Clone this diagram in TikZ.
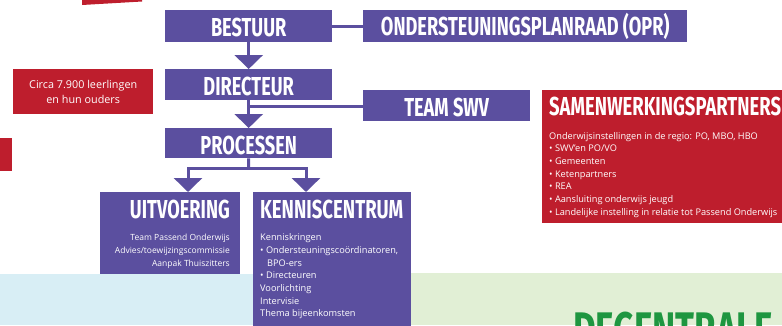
\documentclass[tikz,border=0pt]{standalone}
\usepackage{fontspec}
\usetikzlibrary{arrows.meta}
\newfontfamily\headfont{Fira Sans}[FakeStretch=0.70]
\newfontfamily\bodyfont{Open Sans}
\definecolor{swvpurple}{HTML}{5B4F9F}
\definecolor{swvred}{HTML}{BE1E2D}
\definecolor{bgblue}{HTML}{D8EEF5}
\definecolor{bggreen}{HTML}{E1EFD5}
\definecolor{swvgreen}{HTML}{1E9640}
\tikzset{
  pbox/.style={fill=swvpurple, inner sep=0pt, anchor=north west},
  rbox/.style={fill=swvred, inner sep=0pt, anchor=north west},
  headtext/.style={text=white, inner sep=0pt, font={\headfont\bfseries\fontsize{26}{26}\selectfont}},
  bodytext/.style={text=white, inner sep=0pt, font={\bodyfont\fontsize{9.2}{12.7}\selectfont}},
  conn/.style={draw=swvpurple, line width=3pt},
  arr/.style={conn, -{Triangle[width=28pt,length=14pt]}},
}
\begin{document}
\begin{tikzpicture}[x=1pt,y=-1pt]
\useasboundingbox (0,0) rectangle (782,325);
\clip (0,0) rectangle (782,325);
% backgrounds
\fill[bgblue] (0,274) rectangle (253,325);
\fill[bggreen] (411,273) rectangle (782,325);
% partial red shapes
\fill[swvred] (82,0) -- (142,0) -- (142,1.5) -- (82,5) -- cycle;
\fill[swvred] (0,138) rectangle (12,171);
% top chain
\node[pbox, minimum width=167pt, minimum height=32pt] (bestuur) at (165,10) {};
\node[headtext, anchor=base] at ([yshift=-10pt]bestuur.center) {BESTUUR};
\node[pbox, minimum width=324pt, minimum height=32pt] (opr) at (363,10) {};
\node[headtext, anchor=base] at ([yshift=-9.5pt]opr.center) {ONDERSTEUNINGSPLANRAAD (OPR)};
\node[pbox, minimum width=167pt, minimum height=31pt] (directeur) at (165,69) {};
\node[headtext, anchor=base] at ([yshift=-10.5pt]directeur.center) {DIRECTEUR};
\node[pbox, minimum width=167pt, minimum height=31pt] (teamswv) at (363,90) {};
\node[headtext, anchor=base] at ([yshift=-11pt]teamswv.center) {TEAM SWV};
\node[pbox, minimum width=167pt, minimum height=30pt] (processen) at (165,128) {};
\node[headtext, anchor=base] at ([yshift=-11pt]processen.center) {PROCESSEN};
% circa box
\node[rbox, minimum width=140pt, minimum height=45pt] (circa) at (13,69) {};
\node[bodytext, align=center, font={\bodyfont\fontsize{10.8}{15}\selectfont}] at (circa.center) {Circa 7.900 leerlingen\\en hun ouders};
% samenwerkingspartners
\node[rbox, minimum width=250pt, minimum height=133pt] (partners) at (542,90) {};
\node[headtext, anchor=base west] at (549,115.5) {\addfontfeature{FakeStretch=0.71}SAMENWERKINGSPARTNERS};
\node[bodytext, anchor=north west, align=left] at (549,132) {Onderwijsinstellingen in de regio: PO, MBO, HBO\\
• SWV’en PO/VO\\
• Gemeenten\\
• Ketenpartners\\
• REA\\
• Aansluiting onderwijs jeugd\\
• Landelijke instelling in relatie tot Passend Onderwijs};
% uitvoering
\node[pbox, minimum width=140pt, minimum height=82pt] (uitvoering) at (100,192) {};
\node[headtext, anchor=base east] at (230,218) {UITVOERING};
\node[bodytext, anchor=north east, align=right, font={\bodyfont\fontsize{8.5}{12.7}\selectfont}] at (230,234) {Team Passend Onderwijs\\Advies/toewijzingscommissie\\Aanpak Thuiszitters};
% kenniscentrum
\node[pbox, minimum width=158pt, minimum height=140pt] (kennis) at (253,192) {};
\node[headtext, anchor=base west] at (260,218) {\addfontfeature{FakeStretch=0.715}KENNISCENTRUM};
\node[bodytext, anchor=north west, align=left] at (260,233.5) {Kenniskringen\\
• Ondersteuningscoördinatoren,\\
\hspace*{7pt}BPO-ers\\
• Directeuren\\
Voorlichting\\
Intervisie\\
Thema bijeenkomsten};
% decentrale
\node[inner sep=0pt, anchor=base west, text=swvgreen, font={\headfont\bfseries\fontsize{50}{50}\selectfont}] (decentrale) at (573,347) {DECENTRALE};
% connectors
\draw[conn] (bestuur.east) -- (opr.west);
\draw[arr] (bestuur.south) -- (directeur.north);
\draw[arr] (directeur.south) -- (processen.north);
\coordinate (swvj) at (248.5,106);
\draw[conn] (swvj) -- (swvj -| teamswv.west);
\coordinate (pj) at (248.5,168);
\coordinate (pl) at (188,168);
\coordinate (pr) at (306,168);
\draw[conn] (processen.south) -- (pj);
\draw[conn, line cap=rect] (pl) -- (pr);
\draw[arr] (pl) -- (pl |- uitvoering.north);
\draw[arr] (pr) -- (pr |- kennis.north);
\end{tikzpicture}
\end{document}
